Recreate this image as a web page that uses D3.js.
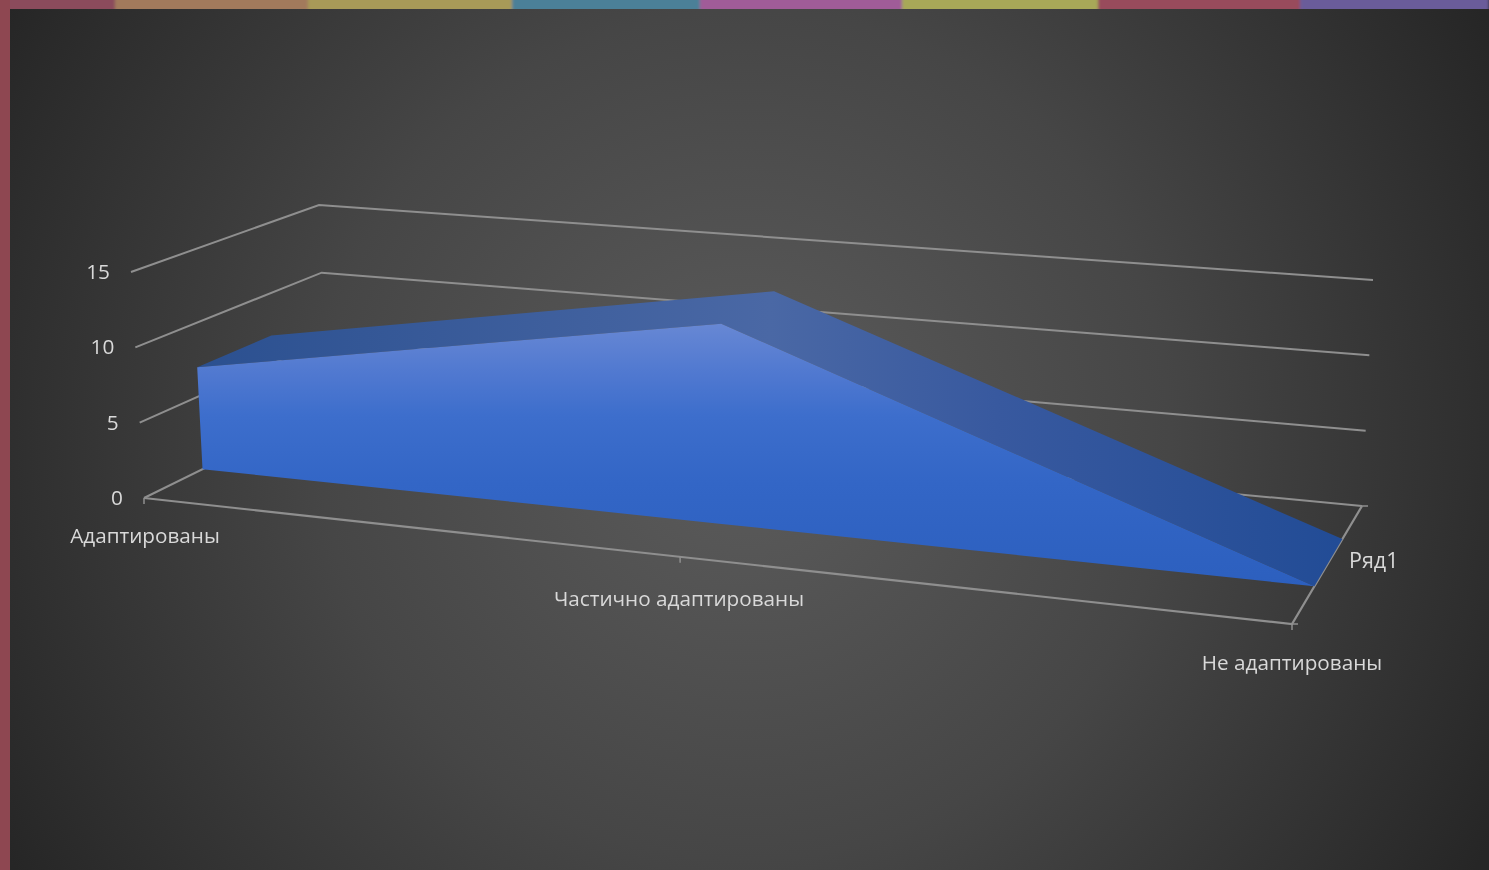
<!DOCTYPE html>
<html>
<head>
<meta charset="utf-8">
<script src="https://d3js.org/d3.v7.min.js"></script>
<style>
  html, body { margin: 0; padding: 0; background: #2a2a2a; overflow: hidden; }
  svg { display: block; filter: blur(0.45px); }
  text { font-family: "Open Sans", sans-serif; fill: #d9d9d9; }
</style>
</head>
<body>
<script>
var categories = ["Адаптированы", "Частично адаптированы", "Не адаптированы"];
var seriesNames = ["Ряд1"];
var seriesValues = [7, 13, 0];
var valueTicks = [0, 5, 10, 15];

// slides behind the chart panel, only their edges show
var stripColors = ["#8b4c5c", "#a27a5c", "#a89a58", "#4c8098", "#a05c98", "#a8a858", "#984c5c", "#6a5c9a"];
var stripEdges = [0, 115, 308, 512, 700, 902, 1098, 1300, 1489];

var w = 1489, h = 870;

var svg = d3.select("body").append("svg")
    .attr("width", w)
    .attr("height", h)
    .attr("viewBox", "0 0 " + w + " " + h);

var defs = svg.append("defs");

var bgGrad = defs.append("radialGradient")
    .attr("id", "panelBg")
    .attr("gradientUnits", "userSpaceOnUse")
    .attr("cx", 745).attr("cy", 435).attr("r", 850);
bgGrad.append("stop").attr("offset", "0").attr("stop-color", "#5c5c5c");
bgGrad.append("stop").attr("offset", ".5").attr("stop-color", "#464646");
bgGrad.append("stop").attr("offset", "1").attr("stop-color", "#262626");

var frontGrad = defs.append("linearGradient")
    .attr("id", "frontFace")
    .attr("gradientUnits", "userSpaceOnUse")
    .attr("x1", 0).attr("y1", 322).attr("x2", 0).attr("y2", 590);
[["0", "#6888d4"], [".2", "#4f78d0"], [".35", "#3d6ecc"], [".6", "#3366c6"], ["1", "#2c5fbe"]].forEach(function (s) {
    frontGrad.append("stop").attr("offset", s[0]).attr("stop-color", s[1]);
});

var topGrad = defs.append("linearGradient")
    .attr("id", "topFace")
    .attr("gradientUnits", "userSpaceOnUse")
    .attr("x1", 199).attr("y1", 0).attr("x2", 1340).attr("y2", 0);
[["0", "#2b5090"], [".5", "#4a68a5"], [".7", "#38599f"], ["1", "#224c96"]].forEach(function (s) {
    topGrad.append("stop").attr("offset", s[0]).attr("stop-color", s[1]);
});

var blur = defs.append("filter").attr("id", "soft")
    .attr("x", "-5%").attr("y", "-50%").attr("width", "110%").attr("height", "200%");
blur.append("feGaussianBlur").attr("stdDeviation", 1.5);

// background slides and panel
var strips = svg.append("g").attr("filter", "url(#soft)");
stripColors.forEach(function (c, i) {
    strips.append("rect")
        .attr("x", stripEdges[i]).attr("y", -6)
        .attr("width", stripEdges[i + 1] - stripEdges[i]).attr("height", 18)
        .attr("fill", c);
});
svg.append("rect").attr("x", 0).attr("y", 0).attr("width", 10).attr("height", h).attr("fill", "#8e4751");
svg.append("rect").attr("x", 10).attr("y", 9).attr("width", w - 10).attr("height", h - 9).attr("fill", "url(#panelBg)");

// one value scale for each vertical corner of the 3d box
var maxVal = d3.max(valueTicks);
function cornerScale(p0, p1) {
    return d3.scaleLinear().domain([0, maxVal]).range([p0, p1]);
}
var frontLeft = cornerScale([144, 498], [131, 272]);
var backLeft = cornerScale([327, 408], [319, 205]);
var backRight = cornerScale([1362, 506], [1373, 280]);
var frontRight = cornerScale([1292, 624], [1304, 370]);

// category position along the box, pulled off centre by the perspective
var catScale = d3.scaleLinear().domain([0, 1, 2]).range([0, 0.467, 1]);
var depthScale = d3.scaleBand().domain(seriesNames).range([0, 1])
    .paddingInner(0.6).paddingOuter(0.3).align(0.533);

var mix = d3.interpolateArray;

function project(u, v, val) {
    var front = mix(frontLeft(val), frontRight(val))(u);
    var back = mix(backLeft(val), backRight(val))(u);
    return mix(front, back)(v);
}

var line = d3.line();
var lineClosed = d3.line().curve(d3.curveLinearClosed);

var greyLine = "#8f8f8f";

// gridlines on the side and back walls
svg.selectAll("path.grid")
    .data(valueTicks)
    .enter().append("path")
    .attr("class", "grid")
    .attr("fill", "none")
    .attr("stroke", greyLine)
    .attr("stroke-width", 2)
    .attr("d", function (d) {
        return line([project(0, 0, d), project(0, 1, d), project(1, 1, d)]);
    });

// floor edges
svg.append("path")
    .attr("fill", "none")
    .attr("stroke", greyLine)
    .attr("stroke-width", 2.2)
    .attr("d", line([project(0, 0, 0), project(1, 0, 0), project(1, 1, 0)]));

// tick marks
var tickLen = 6;
catScale.domain().forEach(function (c) {
    var p = project(catScale(c), 0, 0);
    svg.append("path").attr("stroke", greyLine).attr("stroke-width", 1.5)
        .attr("d", line([p, [p[0], p[1] + tickLen]]));
});
[0, 1].forEach(function (v) {
    var p = project(1, v, 0);
    svg.append("path").attr("stroke", greyLine).attr("stroke-width", 1.5)
        .attr("d", line([p, [p[0] + tickLen, p[1]]]));
});

// the area itself
seriesNames.forEach(function (name) {
    var v0 = depthScale(name);
    var v1 = v0 + depthScale.bandwidth();
    var topPts = [], frontPts = [];
    seriesValues.forEach(function (val, i) {
        frontPts.push(project(catScale(i), v0, val));
    });
    seriesValues.slice().reverse().forEach(function (val, i) {
        topPts.push(project(catScale(seriesValues.length - 1 - i), v1, val));
    });
    topPts = frontPts.concat(topPts);

    svg.append("path").attr("fill", "url(#topFace)").attr("d", lineClosed(topPts));

    var base = seriesValues.map(function (val, i) {
        return project(catScale(i), v0, 0);
    }).reverse();
    svg.append("path").attr("fill", "url(#frontFace)").attr("d", lineClosed(frontPts.concat(base)));
});

// value labels
svg.selectAll("text.val")
    .data(valueTicks)
    .enter().append("text")
    .attr("class", "val")
    .attr("text-anchor", "end")
    .attr("font-size", 20.8)
    .attr("x", function (d) { return project(0, 0, d)[0] - 21; })
    .attr("y", function (d) { return project(0, 0, d)[1] + 7; })
    .text(function (d) { return d; });

// category labels
var catLabelY = [543, 606, 670];
var catLabelX = [145, 679, 1292];
categories.forEach(function (c, i) {
    svg.append("text")
        .attr("text-anchor", "middle")
        .attr("font-size", 20.7)
        .attr("x", catLabelX[i])
        .attr("y", catLabelY[i])
        .text(c);
});

svg.append("text")
    .attr("font-size", 21.5)
    .attr("x", 1349)
    .attr("y", 568)
    .text(seriesNames[0]);
</script>
</body>
</html>
